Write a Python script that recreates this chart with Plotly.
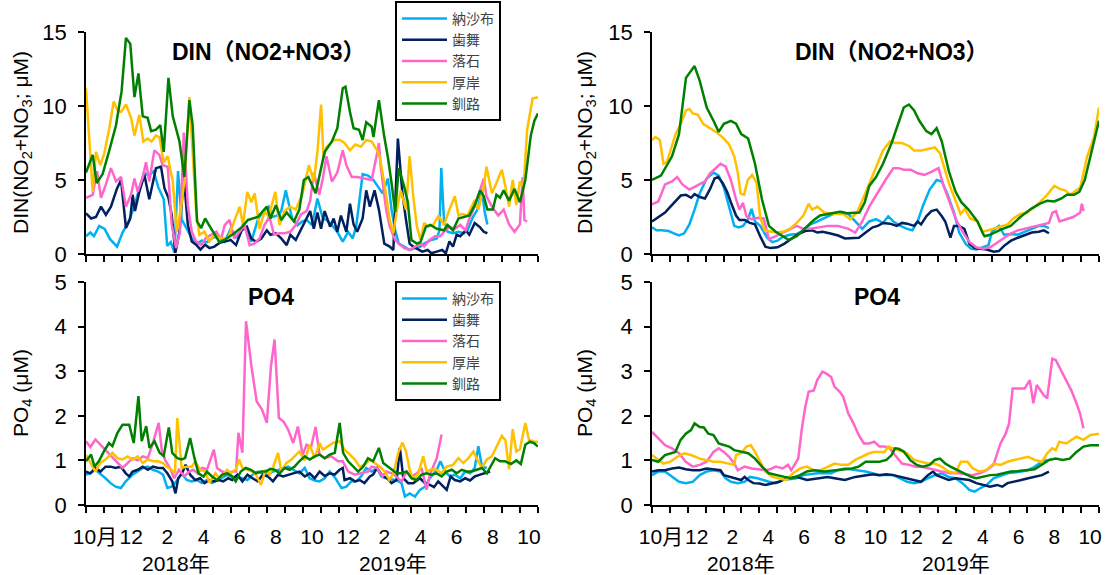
import plotly.graph_objects as go

# ---------------- data (x = months since 1 Oct 2017, y = concentration) ----------------
STATIONS = ["納沙布", "歯舞", "落石", "厚岸", "釧路"]

month_edges = list(range(26))
label_pos = [0.5 + 2 * i for i in range(13)]
month_labels = ["10月", "12", "2", "4", "6", "8", "10", "12", "2", "4", "6", "8", "10"]
year_labels = ["2018年", "2019年"]
year_pos = [5.0, 17.0]

# DIN raw (left top)
din_raw_nosappu = [(0,1.2),(0.24,1.45),(0.44,1.2),(0.73,1.9),(1.03,1.7),(1.33,1.0),(1.72,0.5),(2.02,1.45),(2.32,2.1),(2.61,3.0),(2.91,4.25),(3.21,5.5),(3.46,5.3),(3.74,5.6),(4.0,4.5),(4.3,3.7),(4.49,0.55),(4.69,0.8),(4.89,0.1),(5.09,5.6),(5.29,2.35),(5.58,1.7),(5.88,1.0),(6.14,0.7),(6.4,0.9),(6.7,0.8),(7.0,1.1),(7.3,1.2),(7.67,0.83),(8.0,1.7),(8.4,1.05),(8.77,1.95),(9.14,0.83),(9.5,2.3),(9.8,2.9),(10.1,3.2),(10.3,2.5),(10.6,2.6),(10.8,2.9),(11.05,4.3),(11.4,2.4),(11.7,1.95),(11.96,2.2),(12.2,2.3),(12.5,1.95),(12.8,3.75),(13.1,2.4),(13.3,2.3),(13.6,1.95),(13.9,1.5),(14.2,0.83),(14.5,1.5),(14.75,1.05),(14.95,1.9),(15.1,3.6),(15.3,5.4),(15.6,5.3),(15.9,5.0),(16.15,4.55),(16.4,4.1),(16.7,5.1),(16.9,3.0),(17.1,1.6),(17.3,0.7),(17.6,0.5),(17.9,0.27),(18.2,0.4),(18.5,0.5),(18.7,0.7),(19.1,0.95),(19.4,1.05),(19.55,1.6),(19.65,5.8),(19.8,2.3),(20.0,1.5),(20.3,1.4),(20.6,1.5),(20.9,1.4),(21.1,1.6),(21.4,2.5),(21.65,3.0),(21.9,4.3),(22.05,2.85),(22.2,2.0)]
din_raw_habomai = [(0,2.75),(0.28,2.4),(0.55,2.5),(0.83,3.2),(1.1,2.65),(1.38,3.2),(1.72,4.45),(1.94,5.0),(2.21,1.75),(2.45,2.4),(2.58,4.0),(2.71,2.9),(2.95,4.2),(3.23,5.35),(3.5,3.7),(3.87,5.8),(4.15,5.9),(4.34,4.45),(4.56,3.8),(4.74,2.65),(4.94,0.07),(5.17,1.5),(5.41,5.2),(5.63,2.0),(5.85,0.85),(6.09,0.63),(6.33,0.3),(6.59,0.63),(6.83,0.4),(7.1,0.5),(7.38,0.75),(7.67,0.83),(8.0,0.95),(8.3,0.6),(8.6,1.6),(8.9,1.85),(9.14,1.05),(9.4,0.83),(9.7,1.05),(10.0,1.6),(10.2,1.3),(10.5,1.4),(10.8,1.05),(11.1,0.6),(11.3,1.3),(11.6,0.95),(11.9,1.7),(12.2,2.4),(12.4,2.9),(12.6,1.7),(12.8,2.8),(13.0,1.7),(13.2,2.9),(13.5,1.85),(13.7,2.4),(13.9,1.5),(14.1,2.6),(14.4,1.5),(14.6,3.4),(14.8,2.0),(15.0,1.5),(15.3,2.4),(15.5,4.3),(15.7,3.2),(15.96,4.3),(16.2,3.0),(16.4,1.5),(16.5,0.7),(16.8,0.5),(17.0,0.27),(17.25,7.8),(17.5,4.1),(17.7,2.3),(17.9,0.7),(18.1,0.5),(18.4,0.27),(18.6,0.16),(18.9,0.27),(19.1,0.05),(19.4,0.16),(19.7,0.27),(19.9,0.05),(20.1,0.85),(20.3,0.5),(20.5,1.3),(20.7,1.2),(21.0,1.6),(21.2,1.3),(21.5,2.1),(21.8,1.8),(22.0,1.5),(22.2,1.4)]
din_raw_ochiishi = [(0,3.8),(0.37,4.0),(0.61,5.6),(0.83,3.8),(1.1,4.7),(1.38,5.8),(1.66,4.9),(1.94,5.2),(2.21,3.2),(2.49,4.0),(2.68,5.1),(2.86,4.2),(3.14,5.2),(3.32,6.2),(3.5,4.9),(3.78,7.0),(4.06,6.7),(4.24,6.0),(4.52,5.9),(4.74,2.0),(4.98,0.4),(5.2,1.5),(5.41,8.2),(5.63,3.3),(5.85,1.5),(6.09,0.85),(6.37,0.6),(6.64,1.1),(6.92,1.3),(7.2,1.5),(7.47,1.0),(7.67,1.95),(7.94,2.3),(8.2,1.05),(8.5,1.5),(8.77,1.95),(9.05,0.6),(9.3,0.7),(9.6,1.05),(9.87,1.95),(10.15,2.5),(10.4,1.3),(10.7,1.4),(11.0,1.4),(11.3,1.5),(11.6,1.95),(11.9,2.7),(12.2,2.9),(12.4,3.6),(12.6,5.5),(12.9,4.0),(13.1,5.1),(13.3,6.6),(13.6,4.9),(13.9,5.5),(14.2,7.0),(14.4,6.0),(14.7,5.2),(15.0,5.2),(15.4,5.1),(15.8,5.0),(16.1,6.8),(16.2,7.5),(16.3,5.9),(16.6,3.0),(16.8,1.85),(17.1,0.95),(17.3,0.7),(17.6,0.4),(17.9,0.27),(18.2,0.5),(18.5,0.7),(18.7,0.5),(19.0,0.95),(19.3,1.2),(19.6,1.2),(19.8,1.5),(20.1,1.85),(20.4,1.7),(20.7,1.96),(21.0,1.6),(21.2,2.4),(21.5,3.2),(21.8,4.4),(22.0,5.1),(22.15,3.9),(22.45,3.2),(22.8,2.6),(23.1,3.0),(23.4,2.0),(23.7,1.5),(24.0,2.0),(24.15,5.2),(24.25,2.3),(24.4,2.2)]
din_raw_akkeshi = [(0,11.2),(0.18,8.0),(0.37,4.2),(0.55,6.9),(0.79,6.0),(1.01,6.8),(1.29,8.5),(1.53,10.3),(1.75,9.7),(1.94,9.6),(2.21,10.1),(2.49,9.2),(2.68,8.0),(2.95,9.4),(3.17,7.6),(3.41,7.8),(3.63,7.6),(3.87,8.0),(4.06,7.9),(4.3,6.2),(4.52,6.6),(4.8,4.9),(5.02,1.5),(5.26,3.2),(5.44,4.9),(5.72,10.6),(5.9,6.9),(6.09,2.9),(6.27,1.3),(6.55,1.5),(6.83,0.85),(7.1,1.3),(7.38,1.1),(7.85,1.05),(8.12,1.95),(8.5,3.2),(8.68,1.95),(8.92,4.2),(9.14,3.5),(9.33,4.1),(9.6,1.7),(9.88,2.9),(10.1,2.5),(10.47,4.2),(10.7,1.95),(10.98,2.9),(11.3,3.2),(11.6,3.0),(11.96,4.0),(12.14,4.9),(12.33,6.0),(12.6,4.9),(12.8,6.9),(13.0,10.1),(13.14,6.5),(13.3,7.2),(13.7,7.7),(14.05,7.7),(14.3,7.5),(14.6,7.0),(14.9,7.4),(15.2,7.25),(15.5,7.7),(15.8,7.6),(16.1,7.0),(16.24,6.6),(16.5,4.8),(16.8,2.3),(17.0,1.4),(17.2,3.0),(17.4,4.3),(17.7,3.0),(17.9,6.6),(18.1,3.9),(18.3,1.85),(18.5,0.95),(18.7,2.1),(18.9,1.85),(19.2,1.95),(19.5,2.6),(19.8,1.95),(20.1,3.0),(20.4,3.9),(20.6,2.6),(20.8,2.7),(21.1,2.6),(21.5,3.65),(21.7,3.0),(22.0,4.55),(22.15,5.9),(22.45,4.1),(22.7,4.8),(23.0,5.7),(23.2,4.55),(23.4,3.2),(23.6,5.0),(23.8,3.3),(24.0,4.9),(24.2,4.5),(24.4,8.4),(24.7,10.5),(25.0,10.6)]
din_raw_kushiro = [(0,5.5),(0.37,6.7),(0.59,4.8),(0.92,5.4),(1.29,7.0),(1.66,8.7),(1.97,11.0),(2.21,14.6),(2.45,14.2),(2.68,10.6),(2.9,12.2),(3.14,9.3),(3.41,9.2),(3.6,8.3),(3.87,8.4),(4.11,8.7),(4.3,6.9),(4.56,11.9),(4.8,9.3),(5.17,7.6),(5.44,5.2),(5.72,10.4),(5.9,8.7),(6.14,2.2),(6.37,1.75),(6.59,2.4),(6.83,1.9),(7.1,1.4),(7.38,0.8),(7.66,0.95),(8.2,1.4),(8.6,1.8),(8.96,2.3),(9.5,2.5),(10.0,3.2),(10.2,2.4),(10.5,3.3),(10.8,2.3),(11.1,2.8),(11.5,2.2),(11.8,3.0),(12.05,5.0),(12.3,5.2),(12.7,4.1),(13.2,6.9),(13.6,7.6),(13.9,8.5),(14.2,11.2),(14.35,11.3),(14.6,9.6),(14.8,8.5),(15.1,8.4),(15.3,7.7),(15.5,8.9),(15.8,8.6),(15.9,7.9),(16.2,10.4),(16.5,7.9),(16.7,6.5),(16.9,4.8),(17.1,2.85),(17.3,5.8),(17.6,4.55),(17.8,3.5),(18.0,0.95),(18.3,0.7),(18.5,0.8),(18.8,1.85),(19.05,1.96),(19.4,1.7),(19.8,1.6),(20.0,1.96),(20.3,1.6),(20.6,2.4),(20.9,2.5),(21.2,2.6),(21.5,3.3),(21.8,4.3),(22.0,3.9),(22.2,3.0),(22.5,3.0),(22.7,4.0),(22.9,3.8),(23.1,4.3),(23.4,3.6),(23.7,4.4),(24.0,3.5),(24.3,5.0),(24.6,8.0),(24.8,9.0),(25.0,9.5)]

# DIN moving average (right top)
din_avg_nosappu = [(0,1.8),(0.25,1.6),(0.54,1.6),(0.93,1.55),(1.22,1.4),(1.51,1.25),(1.8,1.4),(2.09,2.0),(2.38,3.0),(2.67,4.1),(3.06,5.1),(3.44,5.5),(3.73,5.3),(4.02,4.5),(4.31,3.2),(4.6,1.9),(4.85,1.8),(5.09,1.9),(5.35,2.3),(5.57,3.05),(5.76,2.2),(6.05,1.9),(6.44,1.1),(6.73,0.8),(7.02,0.9),(7.31,1.15),(7.7,1.3),(8.09,1.35),(8.47,1.6),(8.86,2.0),(9.25,2.2),(9.73,2.5),(10.21,2.75),(10.6,2.85),(10.99,2.7),(11.37,2.2),(11.76,1.7),(12.15,2.2),(12.53,2.35),(12.92,2.1),(13.21,2.55),(13.5,2.2),(13.89,1.9),(14.27,1.7),(14.56,1.6),(14.86,2.2),(15.15,3.25),(15.53,4.35),(15.92,5.0),(16.21,4.9),(16.5,4.1),(16.89,2.8),(17.18,1.45),(17.56,0.67),(17.85,0.35),(18.14,0.3),(18.53,0.45),(18.82,0.6),(19.01,1.5),(19.4,1.9),(19.69,1.3),(20.08,1.35),(20.46,1.3),(20.85,1.5),(21.24,1.7),(21.63,1.9),(21.92,1.9),(22.2,1.75)]
din_avg_habomai = [(0,2.2),(0.35,2.5),(0.73,2.8),(1.03,3.2),(1.32,3.6),(1.61,3.95),(1.9,4.0),(2.19,3.8),(2.38,4.05),(2.67,3.85),(2.96,3.75),(3.25,4.4),(3.5,5.1),(3.7,5.2),(3.95,4.8),(4.2,4.2),(4.41,3.5),(4.7,2.6),(4.89,2.3),(5.18,2.3),(5.47,2.1),(5.76,2.0),(6.05,1.2),(6.34,0.5),(6.63,0.4),(7.02,0.45),(7.41,0.7),(7.8,1.0),(8.18,1.35),(8.57,1.55),(8.96,1.6),(9.25,1.45),(9.54,1.5),(9.92,1.4),(10.41,1.25),(10.79,1.05),(11.18,1.05),(11.57,1.1),(11.95,1.45),(12.34,1.8),(12.63,1.9),(12.92,2.1),(13.31,2.05),(13.69,1.9),(13.98,2.1),(14.27,2.05),(14.66,1.9),(14.86,2.2),(15.05,2.0),(15.34,2.55),(15.63,2.9),(15.92,3.0),(16.21,2.55),(16.4,2.2),(16.69,1.1),(16.89,1.9),(17.18,1.9),(17.47,1.7),(17.76,0.67),(18.05,0.4),(18.34,0.35),(18.72,0.3),(19.11,0.15),(19.4,0.2),(19.69,0.55),(20.08,0.9),(20.46,1.1),(20.85,1.3),(21.24,1.45),(21.63,1.5),(21.92,1.6),(22.2,1.4)]
din_avg_ochiishi = [(0,3.35),(0.35,3.55),(0.73,4.7),(1.12,4.9),(1.41,5.2),(1.7,4.7),(2.09,4.35),(2.38,4.55),(2.67,4.7),(2.96,4.9),(3.25,5.45),(3.54,5.8),(3.83,6.1),(4.12,5.9),(4.41,5.0),(4.7,3.7),(4.89,3.0),(5.09,3.45),(5.28,2.55),(5.57,2.35),(5.96,2.45),(6.25,2.4),(6.54,1.0),(6.92,1.2),(7.31,1.45),(7.7,1.7),(8.09,1.9),(8.47,1.7),(8.86,1.7),(9.34,1.8),(9.83,1.9),(10.4,1.9),(10.99,1.7),(11.37,1.45),(11.76,2.2),(12.15,3.2),(12.44,3.8),(12.73,4.4),(13.11,5.1),(13.5,5.8),(13.79,5.8),(14.08,5.7),(14.47,5.7),(14.86,5.45),(15.24,5.35),(15.63,5.55),(16.02,5.8),(16.31,4.6),(16.6,3.6),(16.98,2.4),(17.37,1.5),(17.76,0.8),(18.14,0.45),(18.53,0.35),(18.92,0.45),(19.3,0.75),(19.69,1.1),(20.08,1.4),(20.46,1.6),(20.95,1.75),(21.43,1.85),(21.82,2.0),(22.2,2.1),(22.4,2.8),(22.59,2.9),(22.79,2.2),(23.17,2.35),(23.56,2.5),(23.95,2.8),(24.04,3.4),(24.14,2.9)]
din_avg_akkeshi = [(0,7.7),(0.19,7.9),(0.44,7.7),(0.64,6.1),(0.83,6.2),(1.08,7.2),(1.32,8.1),(1.61,8.8),(1.9,9.7),(2.09,9.8),(2.28,9.5),(2.57,9.4),(2.86,8.8),(3.25,8.5),(3.64,8.2),(4.02,7.8),(4.31,7.4),(4.6,6.6),(4.8,5.5),(4.95,4.1),(5.15,4.0),(5.35,5.0),(5.6,5.35),(5.85,4.8),(6.05,2.5),(6.3,1.6),(6.63,1.5),(6.92,1.45),(7.31,1.5),(7.7,1.7),(8.09,2.1),(8.47,2.6),(8.76,3.4),(8.96,3.0),(9.25,3.2),(9.63,2.8),(10.21,2.7),(10.7,2.7),(11.08,2.35),(11.47,2.8),(11.86,3.9),(12.24,5.0),(12.53,5.9),(12.92,7.0),(13.31,7.6),(13.6,7.5),(13.98,7.5),(14.37,7.3),(14.66,7.0),(15.05,7.0),(15.44,7.1),(15.82,7.2),(16.11,6.8),(16.31,6.0),(16.6,4.8),(16.98,3.6),(17.26,2.7),(17.5,3.05),(17.8,2.4),(18.2,2.2),(18.5,1.5),(18.8,1.6),(19.3,1.8),(19.9,2.0),(20.2,2.4),(20.6,2.7),(21.0,2.8),(21.4,3.2),(21.7,3.5),(22.1,4.0),(22.5,4.6),(22.8,4.4),(23.1,4.3),(23.4,4.0),(23.7,4.3),(23.95,4.5),(24.34,6.6),(24.72,7.9),(25,9.9)]
din_avg_kushiro = [(0,5.0),(0.5,5.3),(1.12,6.6),(1.51,8.1),(1.9,11.9),(2.38,12.7),(2.67,11.7),(3.06,9.9),(3.44,9.0),(3.73,8.25),(4.02,8.8),(4.41,9.0),(4.7,8.8),(4.99,8.1),(5.38,7.8),(5.76,6.1),(6.15,3.7),(6.54,1.9),(6.92,1.5),(7.3,1.2),(7.65,0.95),(8.1,1.2),(8.7,1.9),(9.05,2.3),(9.4,2.6),(9.8,2.7),(10.2,2.75),(10.5,2.85),(10.9,2.75),(11.3,2.8),(11.6,2.8),(11.9,3.5),(12.15,4.6),(12.53,5.2),(12.92,6.1),(13.4,7.5),(13.79,8.8),(14.08,9.9),(14.37,10.1),(14.66,9.7),(14.95,9.0),(15.34,8.3),(15.63,8.1),(15.92,8.5),(16.21,7.6),(16.6,5.6),(16.98,4.2),(17.3,3.5),(17.7,3.0),(18.2,2.2),(18.5,1.4),(18.6,1.2),(18.9,1.3),(19.5,1.65),(20.06,1.9),(20.6,2.5),(21.2,3.05),(21.7,3.4),(22.1,3.6),(22.5,3.55),(22.9,3.75),(23.2,4.0),(23.6,4.0),(23.9,4.2),(24.2,5.0),(24.5,6.5),(24.8,8.0),(25,9.0)]

# PO4 raw (left bottom)
po4_raw_nosappu = [(0,0.68),(0.24,0.71),(0.52,0.79),(0.8,0.7),(1.08,0.6),(1.36,0.49),(1.64,0.41),(1.93,0.38),(2.2,0.53),(2.58,0.68),(2.86,0.75),(3.14,0.83),(3.42,0.86),(3.7,0.79),(3.98,0.75),(4.26,0.68),(4.5,0.38),(4.73,0.41),(5.0,0.53),(5.29,0.71),(5.57,0.56),(5.85,0.53),(6.13,0.56),(6.41,0.49),(6.69,0.56),(6.97,0.49),(7.25,0.56),(7.5,0.6),(7.81,0.68),(8.09,0.64),(8.4,0.62),(8.65,0.6),(8.93,0.56),(9.21,0.68),(9.5,0.75),(9.8,0.7),(10.06,0.68),(10.34,0.75),(10.6,0.78),(10.9,0.83),(11.18,0.86),(11.46,0.79),(11.8,0.71),(12.1,0.83),(12.37,0.6),(12.65,0.55),(12.92,0.53),(13.2,0.6),(13.48,0.75),(13.8,0.6),(14.13,0.38),(14.4,0.41),(14.68,0.53),(14.96,0.53),(15.23,0.65),(15.5,0.83),(15.8,0.75),(16.1,0.83),(16.34,0.64),(16.6,0.6),(16.9,0.58),(17.2,0.55),(17.45,0.49),(17.64,0.19),(17.9,0.26),(18.2,0.19),(18.47,0.34),(18.75,0.41),(19.02,0.6),(19.4,0.79),(19.6,0.98),(19.86,0.75),(20.13,0.64),(20.4,0.68),(20.7,0.6),(20.97,0.75),(21.24,0.71),(21.5,0.83),(21.7,1.32),(21.9,0.86),(22.17,0.83)]
po4_raw_habomai = [(0,0.75),(0.24,0.71),(0.52,0.83),(0.8,0.75),(1.08,0.86),(1.36,0.86),(1.64,0.83),(1.93,0.86),(2.2,0.71),(2.39,0.64),(2.58,0.75),(2.86,0.79),(3.14,0.86),(3.42,0.79),(3.7,0.86),(3.98,0.83),(4.26,0.83),(4.5,0.71),(4.77,0.53),(4.95,0.26),(5.1,0.6),(5.3,0.7),(5.51,0.9),(5.76,0.68),(6.04,0.56),(6.32,0.6),(6.56,0.49),(6.82,0.56),(7.07,0.53),(7.35,0.56),(7.59,0.53),(7.87,0.6),(8.09,0.56),(8.37,0.68),(8.65,0.53),(8.93,0.68),(9.21,0.6),(9.5,0.53),(9.78,0.68),(10.06,0.64),(10.34,0.53),(10.62,0.68),(10.9,0.64),(11.18,0.68),(11.46,0.71),(11.8,0.75),(12.1,0.64),(12.37,0.71),(12.65,0.6),(12.92,0.75),(13.2,0.65),(13.48,0.71),(13.75,0.68),(14.03,0.79),(14.2,0.83),(14.3,0.56),(14.6,0.6),(14.87,0.53),(15.14,0.56),(15.4,0.49),(15.7,0.64),(15.88,0.68),(16.1,0.83),(16.4,0.65),(16.65,0.6),(16.9,0.49),(17.18,0.56),(17.36,1.28),(17.55,0.6),(17.82,0.49),(18.1,0.49),(18.47,0.6),(18.75,0.49),(19.02,0.45),(19.25,0.4),(19.48,0.53),(19.7,0.45),(19.95,0.34),(20.17,0.64),(20.4,0.56),(20.7,0.53),(20.97,0.6),(21.24,0.55),(21.5,0.64),(21.8,0.68),(22.07,0.71),(22.35,0.75)]
po4_raw_ochiishi = [(0,1.43),(0.24,1.3),(0.52,1.47),(0.8,1.35),(1.18,1.17),(1.46,1.05),(1.74,0.94),(2.02,0.83),(2.3,0.94),(2.58,1.05),(2.86,1.0),(3.14,1.09),(3.42,1.05),(3.7,1.39),(4.02,1.84),(4.2,1.2),(4.39,1.0),(4.64,0.83),(4.88,0.6),(5.14,0.79),(5.44,0.64),(5.7,0.75),(5.94,0.79),(6.17,0.71),(6.41,0.83),(6.7,0.8),(7.07,1.24),(7.25,0.83),(7.53,0.75),(7.81,0.71),(8.09,0.75),(8.3,0.75),(8.43,1.62),(8.65,1.17),(8.85,4.12),(9.15,3.11),(9.44,2.32),(9.74,2.14),(10.0,1.84),(10.23,3.11),(10.43,3.71),(10.67,1.95),(10.93,1.87),(11.18,1.69),(11.46,1.39),(11.72,1.76),(11.98,1.12),(12.2,1.35),(12.45,1.3),(12.7,1.75),(12.92,1.13),(13.2,1.05),(13.57,1.09),(13.94,0.98),(14.2,0.98),(14.5,0.75),(14.87,0.68),(15.23,0.71),(15.6,0.75),(15.8,0.86),(16.1,0.83),(16.4,0.64),(16.6,0.75),(17.0,0.7),(17.45,0.53),(17.73,0.75),(18.0,0.64),(18.3,0.71),(18.56,0.83),(18.84,0.34),(19.02,0.68),(19.4,1.05),(19.67,1.58)]
po4_raw_akkeshi = [(0,1.12),(0.24,0.94),(0.52,0.75),(0.8,0.95),(1.08,1.02),(1.46,1.17),(1.74,1.05),(2.02,1.02),(2.3,1.09),(2.58,1.02),(2.86,1.09),(3.14,0.94),(3.42,1.02),(3.7,0.98),(3.98,0.98),(4.26,0.94),(4.45,0.86),(4.73,0.79),(4.92,0.71),(5.05,1.95),(5.29,0.83),(5.57,0.86),(5.85,0.86),(6.04,0.98),(6.32,0.79),(6.6,0.75),(6.82,0.5),(7.16,0.71),(7.35,0.6),(7.57,0.68),(7.81,0.79),(8.0,0.71),(8.28,0.79),(8.47,1.02),(8.65,0.83),(8.93,0.79),(9.21,0.75),(9.4,0.68),(9.68,0.45),(9.93,0.79),(10.15,0.68),(10.34,0.83),(10.62,1.17),(10.8,0.75),(11.08,0.94),(11.36,1.02),(11.8,1.2),(12.1,1.0),(12.37,1.35),(12.65,1.05),(12.92,1.39),(13.1,1.24),(13.4,1.32),(13.66,1.39),(14.03,1.43),(14.3,1.24),(14.6,1.13),(14.87,1.02),(15.14,0.86),(15.4,0.9),(15.7,1.02),(15.97,0.94),(16.25,0.86),(16.53,0.75),(16.77,0.56),(17.0,0.7),(17.27,1.17),(17.5,1.4),(17.7,1.2),(17.9,0.8),(18.1,0.56),(18.38,0.71),(18.65,1.09),(18.84,0.75),(19.1,0.8),(19.4,0.79),(19.67,0.71),(19.95,0.86),(20.3,0.9),(20.6,1.05),(20.87,0.94),(21.15,1.05),(21.43,1.2),(21.6,1.05),(21.9,0.83),(22.17,1.02),(22.44,1.09),(22.7,1.3),(23.0,1.55),(23.2,1.45),(23.4,0.8),(23.6,1.7),(23.8,1.2),(24.0,1.25),(24.3,1.84),(24.5,1.46),(24.8,1.42),(25.0,1.42)]
po4_raw_kushiro = [(0,0.98),(0.28,1.13),(0.47,0.86),(0.71,0.98),(0.99,1.2),(1.27,1.39),(1.46,1.32),(1.74,1.62),(2.02,1.8),(2.39,1.8),(2.64,1.39),(2.9,2.44),(3.08,1.43),(3.33,1.77),(3.51,1.28),(3.79,1.43),(4.07,1.17),(4.3,1.1),(4.58,1.74),(4.77,1.17),(5.05,1.05),(5.29,1.02),(5.48,1.05),(5.76,1.5),(6.0,1.05),(6.22,0.71),(6.5,0.64),(6.69,0.75),(6.97,0.64),(7.25,0.56),(7.53,0.68),(7.81,0.71),(8.05,0.65),(8.28,0.53),(8.56,0.75),(8.84,0.83),(9.12,0.79),(9.4,0.71),(9.68,0.75),(9.96,0.75),(10.19,0.81),(10.43,0.79),(10.71,0.71),(10.99,0.83),(11.27,0.79),(11.54,0.86),(11.8,0.98),(12.1,1.09),(12.37,1.02),(12.65,1.09),(12.92,1.13),(13.2,1.05),(13.48,1.13),(13.76,1.17),(14.03,1.84),(14.22,1.17),(14.5,0.98),(14.77,0.86),(15.05,0.75),(15.33,0.86),(15.6,1.05),(15.88,0.98),(16.2,1.28),(16.44,0.94),(16.7,0.86),(17.0,0.75),(17.18,0.71),(17.45,0.71),(17.73,0.75),(18.0,0.6),(18.28,0.56),(18.56,0.68),(18.84,0.71),(19.1,0.68),(19.4,0.71),(19.67,0.64),(19.95,0.75),(20.23,0.79),(20.5,0.71),(20.78,0.79),(21.06,0.75),(21.33,0.75),(21.6,0.79),(21.9,0.83),(22.17,0.71),(22.44,0.9),(22.63,1.05),(22.9,0.98),(23.18,0.98),(23.5,0.92),(23.8,1.0),(24.05,0.92),(24.3,1.35),(24.55,1.42),(24.8,1.38),(25.0,1.31)]

# PO4 moving average (right bottom)
po4_avg_nosappu = [(0,0.67),(0.35,0.75),(0.73,0.75),(1.12,0.63),(1.51,0.52),(1.89,0.49),(2.28,0.52),(2.67,0.67),(3.05,0.75),(3.44,0.78),(3.83,0.75),(4.12,0.6),(4.41,0.52),(4.8,0.49),(5.18,0.52),(5.47,0.63),(5.9,0.6),(6.54,0.52),(6.92,0.49),(7.31,0.56),(8.08,0.6),(8.47,0.67),(9.24,0.71),(10.02,0.71),(10.4,0.78),(10.79,0.82),(11.56,0.78),(11.95,0.75),(12.34,0.71),(12.72,0.67),(13.5,0.67),(13.88,0.6),(14.27,0.52),(14.66,0.49),(15.04,0.52),(15.43,0.6),(15.82,0.67),(16.2,0.71),(16.59,0.63),(16.98,0.6),(17.36,0.49),(17.75,0.34),(18.04,0.3),(18.33,0.37),(18.72,0.45),(19.1,0.6),(19.5,0.65),(19.88,0.71),(20.65,0.75),(21.04,0.78),(21.42,0.86),(21.81,0.97),(22.1,1.01)]
po4_avg_habomai = [(0,0.75),(0.35,0.78),(0.73,0.78),(1.12,0.82),(1.51,0.84),(1.89,0.8),(2.28,0.78),(2.67,0.78),(3.05,0.82),(3.44,0.8),(3.83,0.78),(4.02,0.67),(4.41,0.63),(4.6,0.6),(4.99,0.56),(5.18,0.63),(5.38,0.56),(5.67,0.49),(6.0,0.48),(6.34,0.45),(6.73,0.49),(7.12,0.52),(7.5,0.6),(8.08,0.63),(8.66,0.56),(9.24,0.6),(9.82,0.63),(10.21,0.6),(10.79,0.56),(11.37,0.63),(11.95,0.67),(12.34,0.69),(12.72,0.67),(13.11,0.69),(13.5,0.67),(13.88,0.63),(14.27,0.6),(14.66,0.56),(15.04,0.52),(15.43,0.67),(15.72,0.75),(15.91,0.67),(16.2,0.63),(16.59,0.56),(16.98,0.6),(17.75,0.56),(18.14,0.49),(18.52,0.45),(18.91,0.41),(19.3,0.45),(19.59,0.41),(19.88,0.49),(20.26,0.52),(20.65,0.56),(21.04,0.6),(21.42,0.63),(21.81,0.67),(22.2,0.75)]
po4_avg_ochiishi = [(0,1.64),(0.35,1.49),(0.73,1.34),(1.12,1.27),(1.51,1.16),(1.89,0.97),(2.28,0.86),(2.67,0.9),(3.05,0.97),(3.44,1.19),(3.73,1.27),(4.02,1.19),(4.31,1.08),(4.6,0.93),(4.8,0.78),(4.99,0.82),(5.18,0.86),(5.57,0.82),(5.95,0.8),(6.34,0.78),(6.6,0.8),(6.92,0.86),(7.31,0.82),(7.6,0.9),(7.79,0.78),(7.99,0.93),(8.18,1.04),(8.37,1.68),(8.57,2.2),(8.76,2.54),(9.05,2.57),(9.24,2.8),(9.53,2.99),(9.73,2.95),(10.02,2.87),(10.21,2.65),(10.5,2.54),(10.69,2.43),(10.98,2.05),(11.27,1.83),(11.56,1.57),(11.85,1.38),(12.14,1.38),(12.43,1.42),(12.72,1.31),(13.01,1.31),(13.3,1.27),(13.59,1.12),(13.98,0.93),(14.37,0.9),(14.75,0.86),(15.14,0.85),(15.53,0.82),(15.91,0.78),(16.2,0.75),(16.69,0.71),(17.1,0.72),(17.5,0.7),(17.94,0.67),(18.33,0.71),(18.72,0.78),(19.1,0.9),(19.49,1.38),(19.78,1.6),(19.97,1.83),(20.17,2.61),(20.46,2.61),(20.84,2.61),(21.13,2.8),(21.33,2.28),(21.52,2.69),(21.91,2.46),(22.1,2.39),(22.39,3.28),(22.58,3.25),(22.87,3.02),(23.16,2.8),(23.45,2.57),(23.74,2.28),(23.94,2.05),(24.13,1.72)]
po4_avg_akkeshi = [(0,1.12),(0.35,1.01),(0.64,0.93),(1.02,0.97),(1.41,1.08),(1.8,1.16),(2.18,1.12),(2.67,1.04),(3.05,1.01),(3.44,0.97),(3.83,0.97),(4.21,0.93),(4.6,0.9),(4.7,1.12),(4.99,1.16),(5.28,1.31),(5.53,1.34),(5.76,1.19),(6.05,0.97),(6.34,0.75),(6.73,0.63),(7.12,0.6),(7.5,0.56),(7.89,0.71),(8.28,0.82),(8.66,0.86),(9.05,0.78),(9.44,0.78),(9.82,0.86),(10.21,0.93),(10.6,0.9),(10.98,0.9),(11.37,1.01),(11.76,1.08),(12.14,1.16),(12.43,1.19),(12.72,1.19),(13.01,1.19),(13.21,1.31),(13.5,1.27),(13.88,1.23),(14.27,1.16),(14.66,1.01),(15.04,0.97),(15.43,0.93),(15.82,0.93),(16.2,0.86),(16.59,0.75),(16.98,0.71),(17.27,0.97),(17.65,0.97),(17.94,0.82),(18.33,0.75),(18.7,0.78),(19.1,0.93),(19.49,0.9),(19.88,0.97),(20.26,1.01),(20.65,1.04),(21.04,1.08),(21.42,1.01),(21.81,0.97),(22.1,1.16),(22.39,1.27),(22.58,1.23),(22.78,1.42),(23.16,1.38),(23.45,1.46),(23.74,1.53),(24.13,1.46),(24.52,1.57),(25,1.6)]
po4_avg_kushiro = [(0,1.01),(0.35,0.97),(0.73,1.12),(1.02,1.16),(1.31,1.19),(1.6,1.46),(1.89,1.6),(2.18,1.68),(2.38,1.83),(2.67,1.75),(2.9,1.74),(3.15,1.6),(3.44,1.57),(3.73,1.38),(4.02,1.34),(4.31,1.31),(4.6,1.23),(4.99,1.19),(5.38,1.16),(5.76,1.04),(6.15,0.86),(6.54,0.71),(6.92,0.67),(7.41,0.63),(7.79,0.6),(8.28,0.67),(8.66,0.75),(9.05,0.78),(9.63,0.75),(10.21,0.78),(10.7,0.8),(11.18,0.82),(11.56,0.86),(11.95,0.97),(12.34,0.97),(12.72,0.97),(13.11,1.01),(13.4,1.12),(13.59,1.27),(13.79,1.26),(14.08,1.2),(14.46,1.0),(14.8,0.9),(15.14,0.86),(15.53,0.9),(15.82,1.01),(16.11,1.04),(16.4,0.93),(16.69,0.86),(17.07,0.78),(17.46,0.71),(17.85,0.63),(18.14,0.6),(18.52,0.63),(18.91,0.67),(19.3,0.68),(19.68,0.71),(20.07,0.75),(20.5,0.76),(20.84,0.78),(21.4,0.8),(21.91,0.93),(22.2,1.01),(22.58,1.04),(22.97,1.01),(23.36,1.04),(23.74,1.19),(24.13,1.31),(24.52,1.34),(25,1.34)]

# ---------------- styling ----------------
COLORS = ["#00B0F0", "#002060", "#FF66CC", "#FFC000", "#008000"]
FONT = "Liberation Sans, Arial, Noto Sans CJK JP, sans-serif"
W, H = 1106, 575

panels = [
    ("x", "y", [din_raw_nosappu, din_raw_habomai, din_raw_ochiishi, din_raw_akkeshi, din_raw_kushiro], "legend"),
    ("x2", "y2", [din_avg_nosappu, din_avg_habomai, din_avg_ochiishi, din_avg_akkeshi, din_avg_kushiro], None),
    ("x3", "y3", [po4_raw_nosappu, po4_raw_habomai, po4_raw_ochiishi, po4_raw_akkeshi, po4_raw_kushiro], "legend2"),
    ("x4", "y4", [po4_avg_nosappu, po4_avg_habomai, po4_avg_ochiishi, po4_avg_akkeshi, po4_avg_kushiro], None),
]

fig = go.Figure()
for xa, ya, series, leg in panels:
    for name, color, pts in zip(STATIONS, COLORS, series):
        fig.add_trace(go.Scatter(
            x=[p[0] for p in pts], y=[p[1] for p in pts], mode="lines", name=name,
            line=dict(color=color, width=2.5), xaxis=xa, yaxis=ya,
            legend=leg if leg else "legend", showlegend=leg is not None, hoverinfo="skip"))

left_dom = [86 / W, 538 / W]
right_dom = [652 / W, 1099 / W]
top_dom = [1 - 254 / H, 1 - 32 / H]
bot_dom = [1 - 505 / H, 1 - 282 / H]

TICK_SIZE = 21

def xaxis(dom, anchor, labels):
    return dict(domain=dom, anchor=anchor, range=[0, 25], showline=True, linecolor="black",
                linewidth=1.5, showgrid=False, zeroline=False, tickmode="array",
                tickvals=label_pos, ticktext=month_labels, ticks="", showticklabels=labels,
                tickangle=0, ticklabelstandoff=12, automargin=False,
                minor=dict(tickmode="array", tickvals=month_edges, ticks="outside", ticklen=6,
                           tickcolor="black", tickwidth=1.5),
                tickfont=dict(size=TICK_SIZE, color="black", family=FONT), fixedrange=True)

def yaxis(dom, anchor, top, step):
    return dict(domain=dom, anchor=anchor, range=[0, top], tickmode="linear", tick0=0, dtick=step,
                showline=True, linecolor="black", linewidth=1.5, ticks="outside", ticklen=6,
                tickwidth=1.5, tickcolor="black", showgrid=False, zeroline=False,
                ticklabelstandoff=7, automargin=False,
                tickfont=dict(size=22, color="black", family=FONT), fixedrange=True)

legend_style = dict(xanchor="left", yanchor="top", bordercolor="black", borderwidth=2,
                    bgcolor="white", font=dict(size=14, family=FONT, color="#404040"),
                    itemwidth=45, tracegroupgap=0)

annotations = []
for xc, yc, txt in [(22, 143, "DIN(NO<sub>2</sub>+NO<sub>3</sub>; μM)"), (586, 143, "DIN(NO<sub>2</sub>+NO<sub>3</sub>; μM)"),
                    (22, 393, "PO<sub>4</sub> (μM)"), (586, 393, "PO<sub>4</sub> (μM)")]:
    annotations.append(dict(x=xc / W, y=1 - yc / H, xref="paper", yref="paper", text=txt, textangle=-90,
                            xanchor="center", yanchor="middle", showarrow=False,
                            font=dict(size=21, color="black", family=FONT)))
for xc, yc, txt in [(269, 52, "<b>DIN（NO2+NO3）</b>"), (892, 52, "<b>DIN（NO2+NO3）</b>"),
                    (271, 297, "<b>PO4</b>"), (877, 297, "<b>PO4</b>")]:
    annotations.append(dict(x=xc / W, y=1 - yc / H, xref="paper", yref="paper", text=txt,
                            xanchor="center", yanchor="middle", showarrow=False,
                            font=dict(size=23, color="black", family=FONT)))
for xr in ["x3", "x4"]:
    for pos, txt in zip(year_pos, year_labels):
        annotations.append(dict(x=pos, y=1 - 563 / H, xref=xr, yref="paper", text=txt, showarrow=False,
                                xanchor="center", yanchor="middle",
                                font=dict(size=TICK_SIZE, color="black", family=FONT)))

fig.update_layout(
    width=W, height=H, margin=dict(l=0, r=0, t=0, b=0, pad=0, autoexpand=False),
    paper_bgcolor="white", plot_bgcolor="white",
    font=dict(family=FONT, color="black"),
    xaxis=xaxis(left_dom, "y", False), yaxis=yaxis(top_dom, "x", 15, 5),
    xaxis2=xaxis(right_dom, "y2", False), yaxis2=yaxis(top_dom, "x2", 15, 5),
    xaxis3=xaxis(left_dom, "y3", True), yaxis3=yaxis(bot_dom, "x3", 5, 1),
    xaxis4=xaxis(right_dom, "y4", True), yaxis4=yaxis(bot_dom, "x4", 5, 1),
    legend=dict(x=395 / W, y=1 - 1 / H, **legend_style),
    legend2=dict(x=395 / W, y=1 - 281 / H, **legend_style),
    annotations=annotations, showlegend=True,
)

fig.write_html("out.html")
